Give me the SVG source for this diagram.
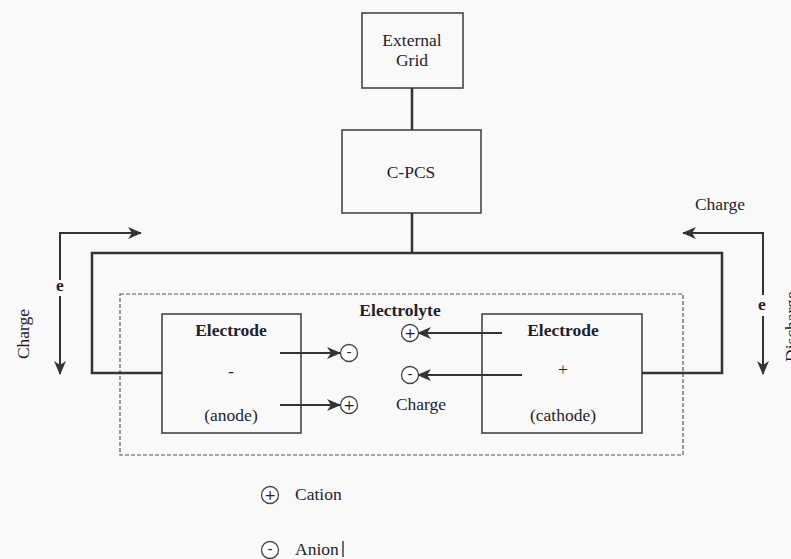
<svg xmlns="http://www.w3.org/2000/svg" width="791" height="559" viewBox="0 0 791 559">
<defs>
<style>
.box{fill:none;stroke:#3a3a3a;stroke-width:1.5}
.wire{fill:none;stroke:#333;stroke-width:2.5}
.arr{fill:none;stroke:#333;stroke-width:2;marker-end:url(#ah)}
.t{font-family:"Liberation Serif","DejaVu Serif",serif;font-size:17.5px;fill:#1e1e2e;text-anchor:middle}
.b{font-weight:bold}
.ion{fill:#fff;stroke:#444;stroke-width:1.3}
.sym{font-family:"DejaVu Sans",sans-serif;font-size:14px;fill:#222;text-anchor:middle}
</style>
<marker id="ah" viewBox="0 0 14 12" refX="13" refY="6" markerWidth="14" markerHeight="12" markerUnits="userSpaceOnUse" orient="auto">
<path d="M0,0 L14,6 L0,12 L4,6 Z" fill="#333"/>
</marker>
</defs>
<rect width="791" height="559" fill="#f9f9f9"/>
<rect x="120" y="294" width="563" height="161" fill="none" stroke="#555" stroke-width="1.2" stroke-dasharray="4,2"/>
<g id="external-grid">
<rect class="box" x="362" y="13" width="101" height="75" fill="#fdfdfd"/>
<text class="t" x="412" y="46">External</text>
<text class="t" x="412" y="66">Grid</text>
</g>
<g id="cpcs">
<rect class="box" x="342" y="130" width="139" height="83"/>
<text class="t" x="411" y="178">C-PCS</text>
</g>
<g id="anode">
<rect class="box" x="162" y="314" width="139" height="119"/>
<text class="t b" x="231" y="336">Electrode</text>
<text class="t" x="231" y="377">-</text>
<text class="t" x="231" y="421">(anode)</text>
</g>
<g id="cathode">
<rect class="box" x="482" y="314" width="160" height="119"/>
<text class="t b" x="563" y="336">Electrode</text>
<text class="t" x="563" y="375" font-size="13">+</text>
<text class="t" x="563" y="421">(cathode)</text>
</g>
<g id="connectors">
<line class="wire" x1="412" y1="88" x2="412" y2="130"/>
<line class="wire" x1="412" y1="213" x2="412" y2="253"/>
<polyline class="wire" points="162,373 92,373 92,253 722,253 722,373 642,373"/>
<polyline class="arr" points="60,280 60,233 141,233"/>
<line class="arr" x1="60" y1="296" x2="60" y2="374"/>
<polyline class="arr" points="763,295 763,233 683,233"/>
<line class="arr" x1="763" y1="316" x2="763" y2="374"/>
<line class="arr" x1="280" y1="353" x2="340" y2="353"/>
<line class="arr" x1="280" y1="405" x2="340" y2="405"/>
<line class="arr" x1="502" y1="333" x2="418" y2="333"/>
<line class="arr" x1="522" y1="375" x2="418" y2="375"/>
</g>
<g id="electrolyte">
<text class="t b" x="400" y="316">Electrolyte</text>
<text class="t" x="421" y="410">Charge</text>
</g>
<g id="ions">
<circle class="ion" cx="349" cy="353" r="8.5"/><text class="sym" x="349" y="357">-</text>
<circle class="ion" cx="349" cy="405" r="8.5"/><text class="sym" x="349" y="410">+</text>
<circle class="ion" cx="410" cy="333" r="8.5"/><text class="sym" x="410" y="338">+</text>
<circle class="ion" cx="410" cy="375" r="8.5"/><text class="sym" x="410" y="379">-</text>
</g>
<g id="labels">
<text class="t" x="720" y="210">Charge</text>
<text class="t b" x="60" y="291" font-size="15">e</text>
<text class="t b" x="762" y="310" font-size="15">e</text>
<text class="t" transform="translate(29,334) rotate(-90)">Charge</text>
<text class="t" style="text-anchor:start" transform="translate(797,362) rotate(-90)">Discharge</text>
</g>
<g id="legend">
<circle class="ion" cx="270" cy="495" r="8.5"/><text class="sym" x="270" y="500">+</text>
<text class="t" style="text-anchor:start" x="295" y="500">Cation</text>
<circle class="ion" cx="270" cy="550" r="8.5"/><text class="sym" x="270" y="554">-</text>
<text class="t" style="text-anchor:start" x="295" y="555">Anion</text>
<line x1="343" y1="541" x2="343" y2="557" stroke="#111" stroke-width="1.2"/>
</g>
</svg>
